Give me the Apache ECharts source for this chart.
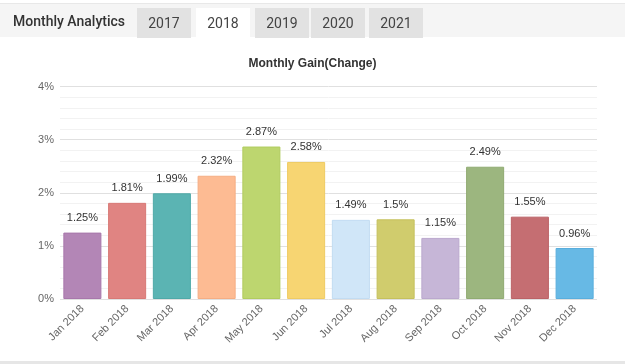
<!DOCTYPE html>
<html><head><meta charset="utf-8">
<script src="https://cdn.jsdelivr.net/npm/echarts@6/dist/echarts.min.js"></script>
<style>
html,body{margin:0;padding:0;width:625px;height:364px;overflow:hidden;background:#fff;font-family:Roboto,"Liberation Sans",Arial,sans-serif;}
#hdr{position:absolute;left:0;top:3px;width:625px;height:34px;background:#f5f5f5;border-top:1px solid #e8e8e8;box-sizing:border-box;}
#hdr .ttl{position:absolute;left:13px;top:0;height:34px;line-height:34px;font-size:14px;color:#333;font-weight:500;}
.tab{position:absolute;top:4px;height:30px;line-height:30px;text-align:center;font-size:14px;color:#444;background:#e2e2e2;}
.tab.on{background:#fff;}
#chart{position:absolute;left:0;top:0;width:625px;height:364px;}
#bot{position:absolute;left:0;top:361px;width:625px;height:3px;background:#e6e6e6;}
</style></head>
<body>
<div id="chart"></div>
<div id="hdr"><div class="ttl">Monthly Analytics</div></div>
<div id="bot"></div>
<script>
const categories = ["Jan 2018","Feb 2018","Mar 2018","Apr 2018","May 2018","Jun 2018","Jul 2018","Aug 2018","Sep 2018","Oct 2018","Nov 2018","Dec 2018"];
const gains = [1.25, 1.81, 1.99, 2.32, 2.87, 2.58, 1.49, 1.5, 1.15, 2.49, 1.55, 0.96];
const barColors = ["#b386b6","#e08482","#5bb4b3","#fdbb93","#bdd66f","#f7d572","#d0e6f8","#d0cc6d","#c6b6d7","#9cb67f","#c56e72","#67b9e5"];
const borderColors = ["#a877ab","#d87976","#4fa9a8","#f5ad83","#b1cc5f","#efcb62","#c2dcf2","#c5c05d","#bba9ce","#90ab72","#bb6266","#59aedd"];
const tabs = ["2017","2018","2019","2020","2021"];
const activeTab = "2018";
const yTicks = [0,1,2,3,4];

const tabX = [137,196,255,311,369];
const hdr = document.getElementById('hdr');
tabs.forEach((t,i)=>{
  const d=document.createElement('div');
  d.className='tab'+(t===activeTab?' on':'');
  d.style.left=tabX[i]+'px'; d.style.width='54px';
  d.textContent=t; hdr.appendChild(d);
});

const chart = echarts.init(document.getElementById('chart'));
chart.setOption({
  animation:false,
  title:{text:'Monthly Gain(Change)',left:'center',top:53,textStyle:{fontFamily:'Liberation Sans, Arial',fontSize:12,fontWeight:'bold',color:'#333'}},
  grid:{left:60,right:28,top:86.5,bottom:65,containLabel:false},
  xAxis:{type:'category',data:categories,
    axisLine:{show:false},axisTick:{show:false},
    axisLabel:{rotate:45,interval:0,margin:8,color:'#666',fontSize:11,fontFamily:'Liberation Sans, Arial'}},
  yAxis:{type:'value',min:yTicks[0],max:yTicks[yTicks.length-1],interval:1,
    axisLine:{show:false},axisTick:{show:false},
    axisLabel:{formatter:'{value}%',margin:6,color:'#666',fontSize:11,fontFamily:'Liberation Sans, Arial'},
    splitLine:{lineStyle:{color:'#e0e0e0',width:1}},
    minorTick:{show:false,splitNumber:5},
    minorSplitLine:{show:true,lineStyle:{color:'#f2f2f2',width:1}}},
  series:[{type:'bar',data:gains.map((v,i)=>({value:v,itemStyle:{color:barColors[i],borderColor:borderColors[i],borderWidth:1}})),
    barCategoryGap:'15%',
    label:{show:true,position:'top',distance:9,formatter:'{c}%',color:'#333',fontSize:11,fontFamily:'Liberation Sans, Arial'}}]
});
</script>
</body></html>
